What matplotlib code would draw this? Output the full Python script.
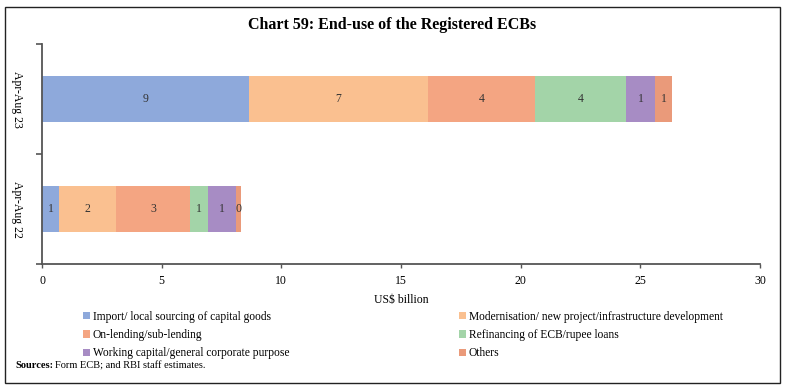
import matplotlib
matplotlib.use("Agg")
import matplotlib.pyplot as plt
from matplotlib.patches import Rectangle
import numpy as np

categories = ["Apr-Aug 22", "Apr-Aug 23"]
series_names = [
    "Import/ local sourcing of capital goods",
    "Modernisation/ new project/infrastructure development",
    "On-lending/sub-lending",
    "Refinancing of ECB/rupee loans",
    "Working capital/general corporate purpose",
    "Others",
]
values_22 = [0.71, 2.38, 3.09, 0.76, 1.17, 0.21]
values_23 = [8.65, 7.48, 4.47, 3.81, 1.21, 0.71]
colors = ["#8EA9DB", "#FAC090", "#F4A582", "#A3D4A8", "#A78CC4", "#EA9A7A"]
xticks = [0, 5, 10, 15, 20, 25, 30]

plt.rcParams["font.family"] = ["Liberation Serif", "DejaVu Serif"]

fig = plt.figure(figsize=(7.85, 3.86), dpi=100)
fig.patches.append(Rectangle((5/785, 1-383/386), 775/785, 376/386,
                             transform=fig.transFigure, fill=False,
                             edgecolor="#222222", linewidth=1.0))
ax = fig.add_axes([42/785, 1-264/386, 718/785, 220/386])

data = np.array([values_22, values_23])
y = np.arange(len(categories))
left = np.zeros(len(categories))
handles = []
for i, name in enumerate(series_names):
    bars = ax.barh(y, data[:, i], left=left, height=0.41, color=colors[i],
                   label=name, linewidth=0)
    handles.append(bars)
    labels = [f"{v:.0f}" for v in data[:, i]]
    ax.bar_label(bars, labels=labels, label_type="center", fontsize=8.5, color="#333333")
    left += data[:, i]

ax.set_xlim(0, 30)
ax.set_ylim(-0.5, 1.5)
ax.set_xticks(xticks)
ax.set_xticklabels([str(t) for t in xticks], fontsize=8.5)
ax.set_yticks(y)
ax.set_yticklabels(categories, rotation=270, va="center", fontsize=8.5)
ax.set_yticks([-0.5, 0.5, 1.5], minor=True)
ax.tick_params(axis="y", which="major", length=0, pad=14)
ax.tick_params(axis="y", which="minor", length=4, width=1.2, color="#555555", direction="out")
ax.tick_params(axis="x", length=3, width=1.0, color="#555555", direction="out", pad=5)
for s in ["top", "right"]:
    ax.spines[s].set_visible(False)
for s in ["left", "bottom"]:
    ax.spines[s].set_color("#555555")
    ax.spines[s].set_linewidth(1.3)
ax.set_xlabel("US$ billion", fontsize=8.5, labelpad=5)

fig.text(0.5, 1-25/386, "Chart 59: End-use of the Registered ECBs",
         ha="center", va="center", fontsize=11.5, fontweight="bold")

leg_kw = dict(loc="upper left", fontsize=8.3, frameon=False,
              handlelength=0.6, handleheight=0.6, handletextpad=0.3,
              labelspacing=0.55, borderaxespad=0)
leg1 = fig.legend(handles=[handles[0], handles[2], handles[4]],
                  labels=[series_names[0], series_names[2], series_names[4]],
                  bbox_to_anchor=(78/785, 1-306/386), **leg_kw)
leg2 = fig.legend(handles=[handles[1], handles[3], handles[5]],
                  labels=[series_names[1], series_names[3], series_names[5]],
                  bbox_to_anchor=(454/785, 1-306/386), **leg_kw)

fig.text(15/785, 1-366/386, "Sources:", fontsize=7.5, fontweight="bold",
         va="center", ha="left")
fig.text(55/785, 1-366/386, "Form ECB; and RBI staff estimates.", fontsize=7.5,
         va="center", ha="left")

fig.savefig("out.png", dpi=100)
